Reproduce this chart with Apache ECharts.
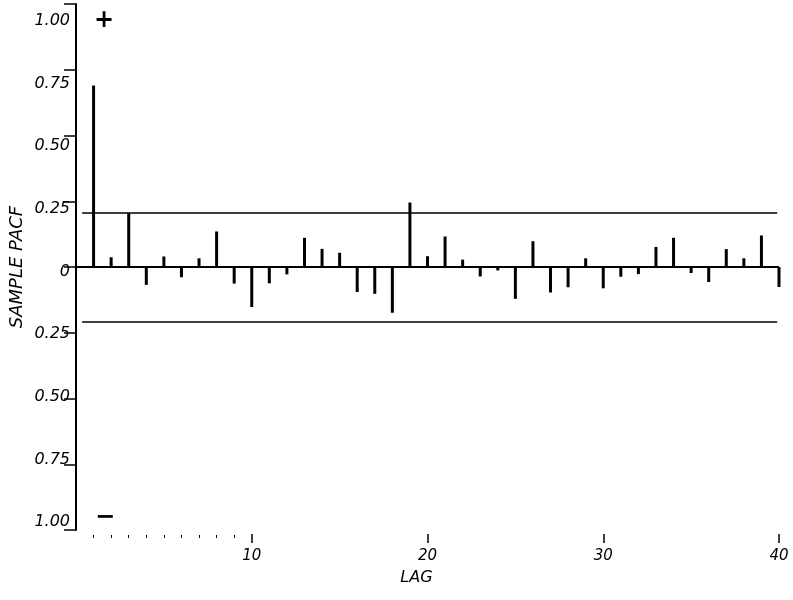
<!DOCTYPE html>
<html>
<head>
<meta charset="utf-8">
<script src="https://cdn.jsdelivr.net/npm/echarts@6/dist/echarts.min.js"></script>
<style>
  html, body { margin: 0; padding: 0; background: #fff; }
  #chart { width: 793px; height: 600px; }
</style>
</head>
<body>
<div id="chart"></div>
<script>
// ---- data ----
const lags = [1, 2, 3, 4, 5, 6, 7, 8, 9, 10,
              11, 12, 13, 14, 15, 16, 17, 18, 19, 20,
              21, 22, 23, 24, 25, 26, 27, 28, 29, 30,
              31, 32, 33, 34, 35, 36, 37, 38, 39, 40];
const pacf = [0.69, 0.037, 0.205, -0.068, 0.04, -0.039, 0.033, 0.135, -0.063, -0.152,
              -0.062, -0.028, 0.111, 0.069, 0.054, -0.095, -0.102, -0.174, 0.245, 0.041,
              0.116, 0.028, -0.036, -0.013, -0.121, 0.098, -0.097, -0.077, 0.033, -0.081,
              -0.037, -0.027, 0.076, 0.111, -0.023, -0.057, 0.068, 0.033, 0.12, -0.076];
const boundUpper = 0.208;
const boundLower = -0.208;
const boundStartLag = 0.35;
const boundEndLag = 39.9;
const majorTicks = [10, 20, 30, 40];
const minorTicks = [1, 2, 3, 4, 5, 6, 7, 8, 9];

const font = 'DejaVu Sans';
const chart = echarts.init(document.getElementById('chart'), null, { renderer: 'canvas' });

const barData = lags.map((l, i) => [l, pacf[i]]);

chart.setOption({
  animation: false,
  backgroundColor: '#fff',
  grid: [
    { left: 74, right: 14, top: 4, bottom: 70 },
    { left: 74, right: 14, top: 21, bottom: 78 }
  ],
  xAxis: [
    {
      gridIndex: 0, type: 'value', min: 0, max: 40, position: 'bottom', offset: 4,
      axisLine: { show: false, onZero: false },
      axisTick: { show: true, customValues: majorTicks, length: 9, lineStyle: { color: '#000', width: 1.5 } },
      axisLabel: { show: true, customValues: majorTicks, margin: 15, color: '#000',
                   fontFamily: font, fontStyle: 'italic', fontSize: 15 },
      splitLine: { show: false },
      name: 'LAG', nameLocation: 'middle', nameGap: 36,
      nameTextStyle: { color: '#000', fontFamily: font, fontStyle: 'italic', fontSize: 16, padding: [0, 22, 0, 0] }
    },
    {
      gridIndex: 0, type: 'value', min: 0, max: 40, position: 'bottom', offset: 5,
      axisLine: { show: false, onZero: false },
      axisTick: { show: true, customValues: minorTicks, length: 3, lineStyle: { color: '#000', width: 1 } },
      axisLabel: { show: false },
      splitLine: { show: false }
    },
    {
      gridIndex: 1, type: 'value', min: 0, max: 40, show: false
    }
  ],
  yAxis: [
    {
      gridIndex: 0, type: 'value', min: -1, max: 1, interval: 0.25,
      axisLine: { show: true, onZero: false, lineStyle: { color: '#000', width: 2 } },
      axisTick: { show: true, length: 12, lineStyle: { color: '#000', width: 1.5 } },
      axisLabel: { show: false },
      splitLine: { show: false },
      name: 'SAMPLE PACF', nameLocation: 'middle', nameGap: 50, nameRotate: 90,
      nameTextStyle: { color: '#000', fontFamily: font, fontStyle: 'italic', fontSize: 18 }
    },
    {
      gridIndex: 1, type: 'value', min: -1, max: 1, interval: 0.25,
      axisLine: { show: false, onZero: false },
      axisTick: { show: false },
      splitLine: { show: false },
      axisLabel: {
        show: true, margin: 4, color: '#000', fontFamily: font, fontStyle: 'italic', fontSize: 16,
        formatter: v => (v === 0 ? '0' : Math.abs(v).toFixed(2))
      }
    }
  ],
  series: [
    {
      type: 'bar', xAxisIndex: 0, yAxisIndex: 0,
      data: barData, barWidth: 3, silent: true,
      itemStyle: { color: '#000' },
      markLine: {
        silent: true, symbol: 'none', label: { show: false },
        lineStyle: { color: '#000', type: 'solid', width: 1.7 },
        data: [
          { yAxis: 0, lineStyle: { color: '#000', type: 'solid', width: 2 } },
          [{ coord: [boundStartLag, boundUpper] }, { coord: [boundEndLag, boundUpper] }],
          [{ coord: [boundStartLag, boundLower] }, { coord: [boundEndLag, boundLower] }]
        ]
      }
    }
  ],
  graphic: [
    { type: 'text', x: 104, y: 21, style: { text: '+', fill: '#000', font: 'bold 24px "DejaVu Sans"', align: 'center', verticalAlign: 'middle' } },
    { type: 'text', x: 105, y: 518, style: { text: '\u2212', fill: '#000', font: 'bold 24px "DejaVu Sans"', align: 'center', verticalAlign: 'middle' } }
  ]
});
</script>
</body>
</html>
